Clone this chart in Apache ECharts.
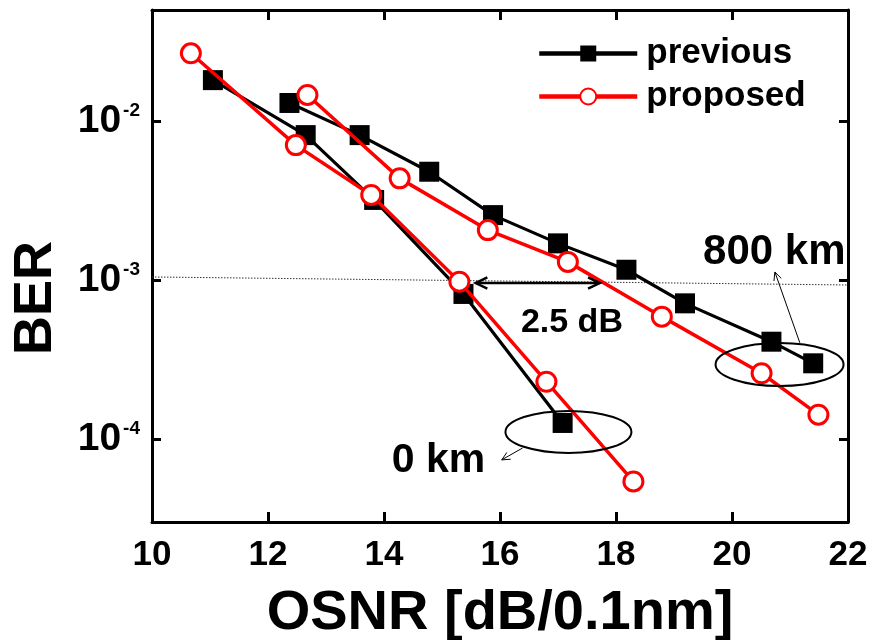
<!DOCTYPE html>
<html>
<head>
<meta charset="utf-8">
<script src="https://cdn.jsdelivr.net/npm/echarts@6/dist/echarts.min.js"></script>
<style>html,body{margin:0;padding:0;background:#fff}#c{width:873px;height:640px}</style>
</head>
<body>
<div id="c"></div>
<script>
// ---- data ----
const prev0kmX   = [11.05, 12.65, 13.83, 15.37, 17.08];
const prev0kmY   = [0.0181, 0.00816, 0.00319, 0.000817, 0.000126];
const prev800kmX = [12.37, 13.58, 14.78, 15.88, 17.0, 18.18, 19.19, 20.68, 21.40];
const prev800kmY = [0.0130, 0.00816, 0.0048, 0.00256, 0.0017, 0.00116, 0.000713, 0.000409, 0.000299];
const prop0kmX   = [10.67, 12.48, 13.78, 15.30, 16.80, 18.30];
const prop0kmY   = [0.0267, 0.00706, 0.00343, 0.000976, 0.000229, 0.000054];
const prop800kmX = [12.68, 14.27, 15.79, 17.17, 18.79, 20.51, 21.49];
const prop800kmY = [0.0146, 0.00436, 0.00206, 0.0013, 0.000588, 0.000259, 0.000142];
const seriesNames = ['previous', 'proposed'];
const xTicks = [10, 12, 14, 16, 18, 20, 22];
const xRange = [10, 22];
const yRange = [3e-5, 0.05];
const xTitle = 'OSNR [dB/0.1nm]';
const yTitle = 'BER';
// annotations (data coordinates)
const thresholdLine = [[10, 1.045e-3], [22, 0.93e-3]];
const gapArrow = [[15.58, 9.57e-4], [17.72, 9.57e-4]];
const gapText = {text: '2.5 dB', at: [17.24, 5.37e-4]};
const km0Text = {text: '0 km', at: [14.94, 7.28e-5]};
const km800Text = {text: '800 km', at: [20.73, 1.5e-3]};
const km0Ellipse = [17.18, 1.107e-4];
const km800Ellipse = [20.82, 2.94e-4];
const km0Pointer = [[16.39, 8.77e-5], [16.03, 7.38e-5]];
const km800Pointer = [[21.17, 4.02e-4], [20.74, 1.122e-3]];

const zip = (xs, ys) => xs.map((x, i) => [x, ys[i]]);
const FONT = '"Liberation Sans", Arial, sans-serif';

const chart = echarts.init(document.getElementById('c'), null, {renderer: 'canvas'});

const axisLineStyle = {color: '#000', width: 3};
const prevStyle = {
  type: 'line', name: seriesNames[0], symbol: 'rect', symbolSize: 20,
  lineStyle: {color: '#000', width: 3.2}, itemStyle: {color: '#000'}, z: 3
};
const propStyle = {
  type: 'line', name: seriesNames[1], symbol: 'circle', symbolSize: 19,
  lineStyle: {color: '#ff0000', width: 3.5},
  itemStyle: {color: '#fff', borderColor: '#ff0000', borderWidth: 3}, z: 4
};

const option = {
  animation: false,
  backgroundColor: '#fff',
  grid: {left: 152, right: 25, top: 10, bottom: 118, containLabel: false, outerBoundsMode: 'none'},
  legend: {
    data: seriesNames, orient: 'vertical', left: 537, top: 36, padding: 0,
    itemWidth: 98, itemHeight: 20, itemGap: 8,
    lineStyle: {width: 4.5},
    textStyle: {fontFamily: FONT, fontWeight: 'bold', fontSize: 35, color: '#000', padding: [0, 0, 0, 4]}
  },
  xAxis: [{
    type: 'value', min: xRange[0], max: xRange[1], interval: 2,
    name: xTitle, nameLocation: 'middle', nameGap: 64,
    nameTextStyle: {fontFamily: FONT, fontWeight: 'bold', fontSize: 56, color: '#000'},
    axisLine: {show: true, lineStyle: axisLineStyle},
    axisTick: {show: true, inside: true, length: 10, lineStyle: {color: '#000', width: 3}},
    axisLabel: {show: true, margin: 16, fontFamily: FONT, fontWeight: 'bold', fontSize: 35, color: '#000',
      formatter: v => xTicks.includes(v) ? String(v) : ''},
    splitLine: {show: false}
  }, {
    type: 'value', position: 'top', min: xRange[0], max: xRange[1], interval: 2,
    axisLine: {show: true, lineStyle: axisLineStyle},
    axisTick: {show: true, inside: true, length: 10, lineStyle: {color: '#000', width: 3}},
    axisLabel: {show: false}, splitLine: {show: false}
  }],
  yAxis: [{
    type: 'log', logBase: 10, min: yRange[0], max: yRange[1],
    name: yTitle, nameLocation: 'middle', nameGap: 89, nameRotate: 90,
    nameTextStyle: {fontFamily: FONT, fontWeight: 'bold', fontSize: 54, color: '#000', padding: [0, 64, 0, 0]},
    axisLine: {show: true, lineStyle: axisLineStyle},
    axisTick: {show: true, inside: true, length: 9, lineStyle: {color: '#000', width: 3}},
    minorTick: {show: false},
    axisLabel: {
      show: true, margin: 12, showMinLabel: false, showMaxLabel: false,
      formatter: v => {
        const e = Math.log10(v), r = Math.round(e);
        if (Math.abs(e - r) > 1e-6) return '';
        return '{b|10}{s|' + r + '}';
      },
      rich: {
        b: {fontFamily: FONT, fontWeight: 'bold', fontSize: 39, color: '#000'},
        s: {fontFamily: FONT, fontWeight: 'bold', fontSize: 19, color: '#000', verticalAlign: 'top', padding: [0, 0, 20, 2]}
      }
    },
    splitLine: {show: false}
  }, {
    type: 'log', logBase: 10, min: yRange[0], max: yRange[1], position: 'right',
    axisLine: {show: true, lineStyle: axisLineStyle},
    axisTick: {show: true, inside: true, length: 9, lineStyle: {color: '#000', width: 3}},
    axisLabel: {show: false}, splitLine: {show: false}
  }],
  series: [
    Object.assign({}, prevStyle, {data: zip(prev0kmX, prev0kmY)}),
    Object.assign({}, prevStyle, {data: zip(prev800kmX, prev800kmY)}),
    Object.assign({}, propStyle, {data: zip(prop0kmX, prop0kmY)}),
    Object.assign({}, propStyle, {data: zip(prop800kmX, prop800kmY)})
  ]
};
chart.setOption(option);

// ---- annotations anchored at data coordinates ----
const px = p => chart.convertToPixel({xAxisIndex: 0, yAxisIndex: 0}, p);
function chevron(tip, from, size, width) {
  const dx = from[0] - tip[0], dy = from[1] - tip[1];
  const L = Math.hypot(dx, dy), ux = dx / L, uy = dy / L;
  const a = Math.PI / 7;
  const w1 = [tip[0] + size * (ux * Math.cos(a) - uy * Math.sin(a)), tip[1] + size * (ux * Math.sin(a) + uy * Math.cos(a))];
  const w2 = [tip[0] + size * (ux * Math.cos(a) + uy * Math.sin(a)), tip[1] + size * (-ux * Math.sin(a) + uy * Math.cos(a))];
  return {type: 'polyline', shape: {points: [w1, tip, w2]}, style: {stroke: '#000', lineWidth: width, fill: null}, z: 10};
}
function line(a, b, style, z) {
  return {type: 'line', shape: {x1: a[0], y1: a[1], x2: b[0], y2: b[1]}, style: style, z: z};
}
function label(t, size) {
  const p = px(t.at);
  return {type: 'text', x: p[0], y: p[1], z: 10,
    style: {text: t.text, fill: '#000', font: 'bold ' + size + 'px ' + FONT, align: 'center', verticalAlign: 'middle'}};
}
const th0 = px(thresholdLine[0]), th1 = px(thresholdLine[1]);
const g0 = px(gapArrow[0]), g1 = px(gapArrow[1]);
const e0 = px(km0Ellipse), e8 = px(km800Ellipse);
const p0a = px(km0Pointer[0]), p0b = px(km0Pointer[1]);
const p8a = px(km800Pointer[0]), p8b = px(km800Pointer[1]);
chart.setOption({
  graphic: [
    line(th0, th1, {stroke: '#333', lineWidth: 1, lineDash: [1.5, 1.5]}, 1),
    line(g0, g1, {stroke: '#000', lineWidth: 2.5}, 10),
    chevron(g0, g1, 13, 2.5),
    chevron(g1, g0, 13, 2.5),
    {type: 'ellipse', shape: {cx: e0[0], cy: e0[1], rx: 63, ry: 21}, style: {stroke: '#000', lineWidth: 2, fill: null}, z: 10},
    {type: 'ellipse', shape: {cx: e8[0], cy: e8[1], rx: 64, ry: 21.5}, style: {stroke: '#000', lineWidth: 2, fill: null}, z: 10},
    line(p0a, p0b, {stroke: '#000', lineWidth: 1}, 10),
    chevron(p0b, p0a, 9, 1),
    line(p8a, p8b, {stroke: '#000', lineWidth: 1}, 10),
    chevron(p8b, p8a, 9, 1),
    label(gapText, 34),
    label(km0Text, 41),
    label(km800Text, 42)
  ]
});
</script>
</body>
</html>
